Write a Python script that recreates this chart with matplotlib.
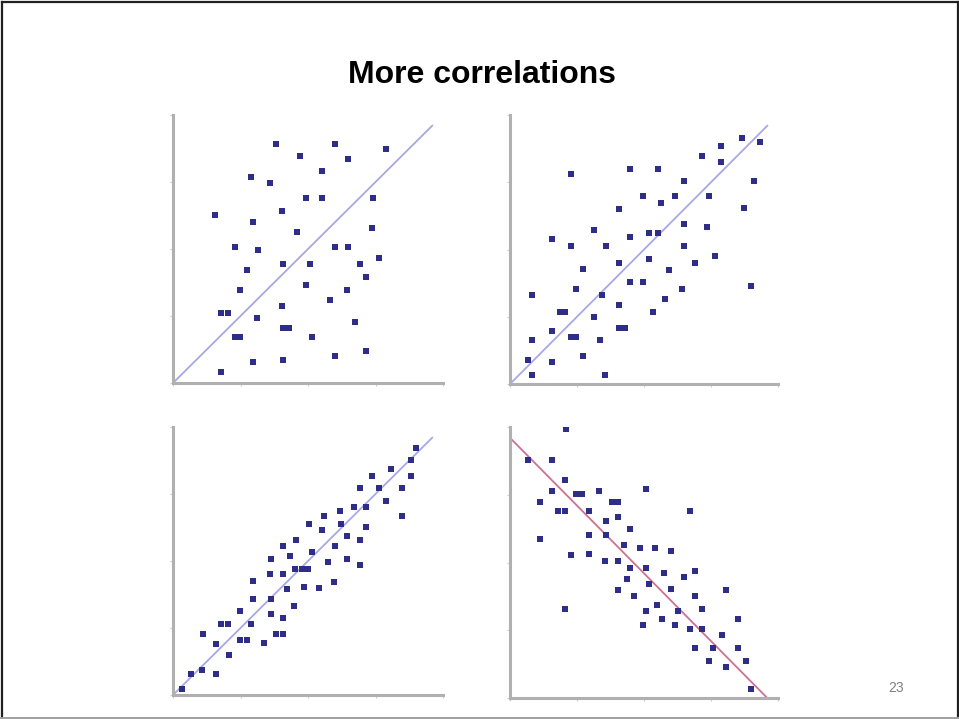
import matplotlib
matplotlib.use("Agg")
import matplotlib.pyplot as plt
from matplotlib.lines import Line2D

# ---- data (0..100 scale on both axes) ----
p1_x = [38.3, 60.1, 78.8, 47.2, 64.8, 55.3, 29.0, 35.8, 49.1, 55.3, 74.1, 40.5, 15.7, 29.6, 46.0,
        73.8, 23.0, 31.5, 60.1, 64.8, 76.3, 40.7, 50.6, 69.1, 27.4, 71.4, 49.1, 24.9, 64.4, 58.0,
        40.5, 17.9, 20.4, 31.2, 67.3, 40.7, 43.0, 23.0, 24.9, 51.6, 71.4, 60.1, 29.6, 40.7, 17.9]
p1_y = [89.1, 89.1, 87.3, 84.8, 83.6, 79.1, 76.9, 74.5, 68.9, 68.9, 68.9, 64.2, 62.7, 60.0, 56.5,
        57.8, 50.6, 49.7, 50.6, 50.6, 46.8, 44.5, 44.5, 44.5, 42.0, 39.4, 36.6, 34.8, 34.8, 31.1,
        28.9, 26.3, 26.3, 24.2, 22.6, 20.5, 20.5, 17.0, 17.0, 17.0, 12.0, 9.9, 7.7, 8.7, 4.1]

p2_x = [86.4, 93.2, 78.8, 71.6, 78.8, 22.6, 44.8, 55.4, 65.1, 91.1, 49.8, 61.7, 74.3, 56.5, 40.6,
        87.3, 65.1, 73.5, 31.2, 52.0, 55.4, 44.8, 15.8, 22.6, 35.8, 65.1, 76.5, 40.6, 52.0, 68.9,
        27.2, 59.5, 44.8, 49.8, 24.7, 64.2, 89.8, 8.3, 34.3, 57.9, 40.6, 18.5, 20.4, 53.2, 31.2,
        40.6, 42.8, 15.8, 22.6, 24.7, 33.7, 8.3, 27.2, 6.8, 15.8, 8.3, 35.6]
p2_y = [91.4, 89.8, 88.3, 84.8, 82.6, 77.9, 80.0, 80.0, 75.4, 75.4, 69.8, 69.8, 69.8, 67.3, 65.0,
        65.6, 59.5, 58.5, 57.3, 56.3, 56.3, 54.8, 53.9, 51.3, 51.3, 51.3, 47.5, 45.1, 46.3, 45.1,
        42.6, 42.3, 37.9, 37.9, 35.4, 35.4, 36.3, 32.9, 33.1, 31.6, 29.5, 26.9, 26.9, 26.9, 24.8,
        21.0, 21.0, 19.8, 17.5, 17.5, 16.4, 16.4, 10.4, 9.1, 8.1, 3.3, 3.3]

p3_x = [90.1, 88.3, 80.9, 88.3, 73.8, 69.1, 76.3, 84.8, 78.8, 67.0, 71.6, 61.7, 84.8, 56.0, 50.4,
        62.3, 55.1, 71.4, 64.4, 69.1, 45.7, 40.7, 60.1, 51.6, 43.5, 36.2, 64.4, 57.4, 69.1, 45.2,
        47.7, 50.1, 29.6, 35.8, 40.7, 42.3, 48.4, 54.1, 59.6, 29.6, 36.2, 44.9, 24.9, 36.2, 40.7,
        29.0, 17.9, 20.4, 11.1, 38.0, 40.7, 24.9, 27.4, 15.8, 33.6, 20.6, 6.5, 10.6, 15.8, 3.2]
p3_y = [92.3, 87.8, 84.2, 81.7, 81.7, 77.4, 77.4, 77.4, 72.4, 70.2, 70.2, 68.7, 66.8, 66.8, 63.7,
        63.7, 61.5, 62.7, 59.4, 58.0, 57.8, 55.7, 55.7, 53.4, 51.9, 50.9, 50.9, 49.7, 48.4, 47.2,
        47.2, 47.2, 42.5, 45.0, 45.0, 39.5, 40.4, 40.1, 42.0, 36.0, 36.0, 33.3, 31.4, 30.1, 28.8,
        26.5, 26.5, 26.5, 22.7, 22.7, 22.7, 20.5, 20.5, 19.0, 19.3, 14.9, 7.8, 9.2, 8.0, 2.2]

p4_x = [21.0, 6.8, 15.8, 20.4, 15.8, 11.1, 24.7, 26.8, 33.1, 50.6, 37.9, 40.4, 17.9, 20.4, 29.3,
        67.0, 35.8, 40.4, 44.8, 11.1, 29.6, 35.8, 42.6, 48.4, 54.2, 59.9, 22.6, 29.6, 35.6, 40.4,
        44.8, 50.6, 57.4, 68.9, 65.1, 43.8, 51.9, 60.2, 80.6, 40.4, 46.3, 69.1, 54.9, 20.4, 50.6,
        62.7, 71.6, 56.8, 84.9, 49.8, 61.7, 67.3, 71.6, 79.0, 69.1, 75.9, 84.9, 74.4, 87.9, 80.6, 89.9]
p4_y = [99.4, 88.0, 88.0, 80.5, 76.2, 72.5, 75.1, 75.1, 76.2, 77.2, 72.5, 72.5, 69.1, 69.1, 68.9,
        69.1, 65.4, 66.7, 62.3, 58.6, 60.1, 60.1, 56.5, 55.2, 55.2, 54.3, 52.8, 53.1, 50.6, 50.6,
        48.1, 48.1, 46.0, 46.9, 44.7, 43.8, 42.2, 40.1, 39.9, 39.9, 37.5, 37.5, 34.2, 33.0, 32.1,
        32.1, 33.0, 29.3, 29.0, 26.9, 26.9, 25.6, 25.6, 23.1, 18.5, 18.5, 18.5, 13.8, 13.8, 11.5, 3.5]

# fitted reference lines (start, end)
line1 = ([0, 96], [0, 96])
line2 = ([0, 96], [0, 96])
line3 = ([0, 96], [0, 96])
line4 = ([0, 96], [96, 0])

ticks = [0, 25, 50, 75, 100]

fig = plt.figure(figsize=(9.59, 7.19), dpi=100)
W, H = 959, 719

def ax_at(left, top, right, bottom):
    return fig.add_axes([left / W, 1 - bottom / H, (right - left) / W, (bottom - top) / H])

panels = [
    (ax_at(173, 115, 443, 383), p1_x, p1_y, line1, "#a8a8e0"),
    (ax_at(510, 115, 778, 384), p2_x, p2_y, line2, "#a8a8e8"),
    (ax_at(173, 427, 443, 695), p3_x, p3_y, line3, "#a8a8e8"),
    (ax_at(510, 427, 778, 698), p4_x, p4_y, line4, "#d07090"),
]

for ax, xs, ys, ln, lc in panels:
    ax.plot(ln[0], ln[1], color=lc, lw=1.3, zorder=1)
    ax.scatter(xs, ys, marker="s", s=14, color="#2e2e88", linewidths=0, zorder=2)
    ax.set_xlim(0, 100)
    ax.set_ylim(0, 100)
    ax.set_xticks(ticks)
    ax.set_yticks(ticks)
    ax.set_xticklabels([])
    ax.set_yticklabels([])
    ax.tick_params(length=2, width=0.8, color="#cccccc", direction="out")
    for s in ["top", "right"]:
        ax.spines[s].set_visible(False)
    for s in ["left", "bottom"]:
        ax.spines[s].set_color("#b0b0b0")
        ax.spines[s].set_linewidth(2.2)
    ax.patch.set_alpha(0)

fig.text(482 / W, 1 - 83 / H, "More correlations", ha="center", va="baseline",
         fontsize=23, fontweight="bold", family=["Liberation Sans", "DejaVu Sans"])
fig.text(896 / W, 1 - 688 / H, "23", ha="center", va="center",
         fontsize=10, color="#808080", family=["Liberation Sans", "DejaVu Sans"])

# slide frame
fig.lines.append(Line2D([1.5 / W, 1.5 / W], [0, 1 - 1.5 / H], transform=fig.transFigure,
                        color="#202020", lw=1.6))
fig.lines.append(Line2D([1.5 / W, 1 - 1.5 / W], [1 - 1.5 / H, 1 - 1.5 / H],
                        transform=fig.transFigure, color="#202020", lw=1.6))
fig.lines.append(Line2D([1 - 1.5 / W, 1 - 1.5 / W], [0, 1 - 1.5 / H],
                        transform=fig.transFigure, color="#202020", lw=1.6))
fig.lines.append(Line2D([0, 1], [1.2 / H, 1.2 / H], transform=fig.transFigure,
                        color="#a0a0a0", lw=1.4))

fig.savefig("out.png", dpi=100)
